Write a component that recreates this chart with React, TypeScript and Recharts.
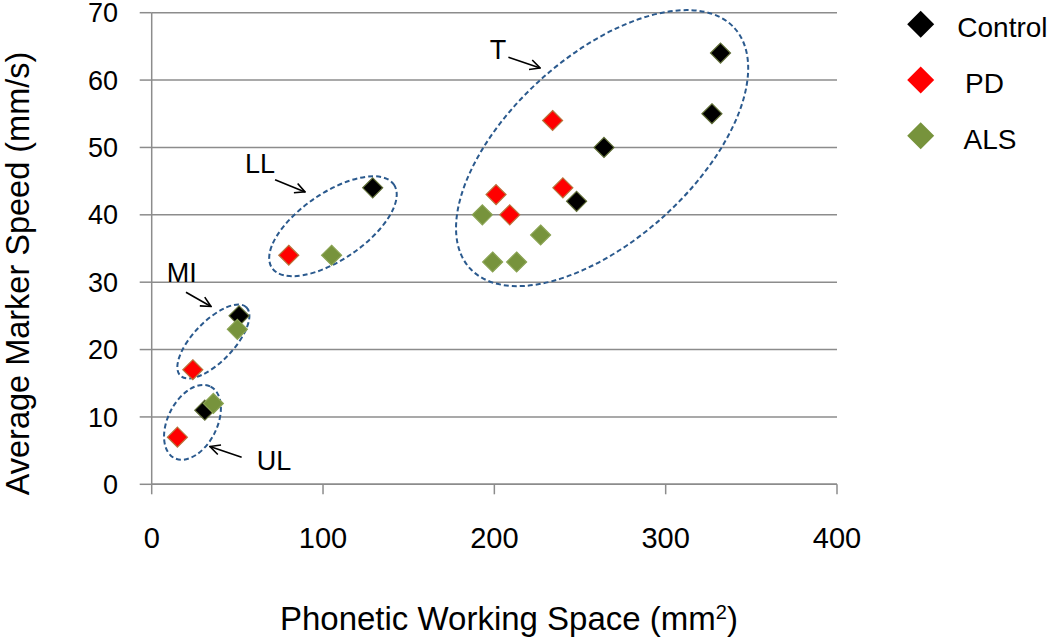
import React from 'react';
import {
  ScatterChart,
  Scatter,
  XAxis,
  YAxis,
  CartesianGrid,
  ReferenceArea,
  ReferenceLine,
  ReferenceDot,
  Legend,
  Label,
} from 'recharts';

// ---------- data ----------
const controlX = [129, 51, 31, 264, 248, 327, 332];
const controlY = [44, 25, 11, 50, 42, 55, 64];
const pdX = [234, 240, 201, 209, 80, 24, 15];
const pdY = [54, 44, 43, 40, 34, 17, 7];
const alsX = [193, 227, 199, 213, 105, 50, 36];
const alsY = [40, 37, 33, 33, 34, 23, 12];

const seriesNames = ['Control', ' PD', ' ALS'];
const xTicks = [0, 100, 200, 300, 400];
const yTicks = [0, 10, 20, 30, 40, 50, 60, 70];

const xTitle = 'Phonetic Working Space (mm';
const xTitleSup = '2';
const yTitle = 'Average Marker Speed (mm/s)';

// articulator groups: centre, unrotated extent (data units), tilt (deg)
const groupNames = ['T', 'LL', 'MI', 'UL'];
const groupCx = [262.9, 105.8, 36.0, 23.8];
const groupCy = [49.9, 38.3, 21.2, 9.2];
const groupW = [208.6, 86.2, 55.5, 46.8];
const groupH = [27.3, 9.9, 6.0, 7.3];
const groupTilt = [42.2, 34.4, 46.1, 63.2];
const labelX = [202.2, 63.2, 17.5, 71.4];
const labelY = [64.5, 47.6, 31.3, 3.5];
const arrowFromX = [208.2, 72.0, 20.0, 52.5];
const arrowFromY = [63.4, 45.2, 28.5, 4.0];
const arrowToX = [226.7, 89.5, 34.6, 34.0];
const arrowToY = [61.8, 43.4, 26.4, 5.6];

const toPoints = (xs: number[], ys: number[]) => xs.map((x, i) => ({ x, y: ys[i] }));
const controlData = toPoints(controlX, controlY);
const pdData = toPoints(pdX, pdY);
const alsData = toPoints(alsX, alsY);

// ---------- styles ----------
const SANS = '"Liberation Sans", Arial, sans-serif';
const GRID = '#8c8c8c';
const COLORS = ['#000000', '#ff0000', '#77933c'];
const EDGES = ['#5f6d36', '#b8743c', '#8aa353'];
const ELLIPSE = '#2b5a8e';

const Diamond = (props: any) => {
  const { cx, cy, fill, edge } = props;
  if (cx == null || cy == null) return null;
  const r = 10;
  return (
    <polygon
      points={`${cx},${cy - r} ${cx + r},${cy} ${cx},${cy + r} ${cx - r},${cy}`}
      fill={fill}
      stroke={edge}
      strokeWidth={1.2}
    />
  );
};

const makeEllipse = (tilt: number) => (props: any) => {
  const { x, y, width, height } = props;
  const cx = x + width / 2;
  const cy = y + height / 2;
  return (
    <ellipse
      cx={cx}
      cy={cy}
      rx={Math.abs(width) / 2}
      ry={Math.abs(height) / 2}
      transform={`rotate(${-tilt} ${cx} ${cy})`}
      fill="none"
      stroke={ELLIPSE}
      strokeWidth={2}
      strokeDasharray="5 3"
    />
  );
};

const makeText = (txt: string) => (props: any) => (
  <text
    x={props.cx}
    y={props.cy}
    textAnchor="middle"
    dominantBaseline="central"
    fontFamily={SANS}
    fontSize={27}
    fill="#000"
  >
    {txt}
  </text>
);

const ArrowShape = (props: any) => {
  const { x1, y1, x2, y2 } = props;
  return (
    <line x1={x1} y1={y1} x2={x2} y2={y2} stroke="#000" strokeWidth={1.6} markerEnd="url(#openArrow)" />
  );
};

const XTitle = (props: any) => {
  const vb = props.viewBox || {};
  return (
    <text
      x={vb.x + vb.width / 2 + 14.6}
      y={vb.y + 145.7}
      textAnchor="middle"
      fontFamily={SANS}
      fontSize={33}
      fill="#000"
    >
      <tspan>{xTitle}</tspan>
      <tspan dy={-11} fontSize={20}>{xTitleSup}</tspan>
      <tspan dy={11}>)</tspan>
    </text>
  );
};

const YTitle = (props: any) => {
  const vb = props.viewBox || {};
  const cx = vb.x + 29;
  const cy = vb.y + vb.height / 2 + 25;
  return (
    <text
      x={cx}
      y={cy}
      transform={`rotate(-90 ${cx} ${cy})`}
      textAnchor="middle"
      fontFamily={SANS}
      fontSize={32.5}
      fill="#000"
    >
      {yTitle}
    </text>
  );
};

const LegendContent = (props: any) => {
  const payload = [...(props.payload || [])].sort(
    (a: any, b: any) => seriesNames.indexOf(a.value) - seriesNames.indexOf(b.value)
  );
  return (
    <svg width={143} height={160} style={{ display: 'block' }}>
      {payload.map((e: any, i: number) => {
        const cy = 14.3 + i * 55.7;
        const r = 13.5;
        const cx = 13.7;
        return (
          <g key={i}>
            <polygon
              points={`${cx},${cy - r} ${cx + r},${cy} ${cx},${cy + r} ${cx - r},${cy}`}
              fill={e.color}
            />
            <text
              x={50.3}
              y={cy + 13}
              fontFamily={SANS}
              fontSize={28}
              fill="#000"
              style={{ whiteSpace: 'pre' }}
            >
              {e.value}
            </text>
          </g>
        );
      })}
    </svg>
  );
};

export default function App() {
  return (
    <div style={{ position: 'absolute', left: 0, top: 0, width: 1050, height: 638, background: '#fff' }}>
      <svg width={0} height={0} style={{ position: 'absolute' }}>
        <defs>
          <marker
            id="openArrow"
            viewBox="0 0 12 12"
            refX={11}
            refY={6}
            markerWidth={12}
            markerHeight={12}
            markerUnits="userSpaceOnUse"
            orient="auto"
          >
            <path d="M1,1 L11,6 L1,11" fill="none" stroke="#000" strokeWidth={1.6} />
          </marker>
        </defs>
      </svg>
      <ScatterChart width={1050} height={638} margin={{ top: 12.7, right: 213, bottom: 0, left: 0 }}>
        <CartesianGrid vertical={false} stroke={GRID} strokeWidth={1.5} />
        <XAxis
          type="number"
          dataKey="x"
          domain={[0, 400]}
          ticks={xTicks}
          height={153.7}
          interval={0}
          axisLine={{ stroke: GRID, strokeWidth: 1.5 }}
          tickLine={{ stroke: GRID, strokeWidth: 1.5 }}
          tickSize={10}
          tickMargin={33}
          tick={{ fontFamily: SANS, fontSize: 29, fill: '#000' }}
        >
          <Label content={<XTitle />} />
        </XAxis>
        <YAxis
          type="number"
          dataKey="y"
          domain={[0, 70]}
          ticks={yTicks}
          width={151.7}
          interval={0}
          axisLine={{ stroke: GRID, strokeWidth: 1.5 }}
          tickLine={{ stroke: GRID, strokeWidth: 1.5 }}
          tickSize={12}
          tickMargin={21.7}
          tick={{ fontFamily: SANS, fontSize: 27, fill: '#000' }}
        >
          <Label content={<YTitle />} />
        </YAxis>
        <Legend
          layout="vertical"
          align="center"
          verticalAlign="middle"
          itemSorter={(item: any) => seriesNames.indexOf(item.value)}
          wrapperStyle={{ left: 907, top: 10, width: 143, height: 160 }}
          content={<LegendContent />}
        />
        {groupNames.map((g, i) => (
          <ReferenceArea
            key={'e' + g}
            x1={groupCx[i] - groupW[i] / 2}
            x2={groupCx[i] + groupW[i] / 2}
            y1={groupCy[i] - groupH[i] / 2}
            y2={groupCy[i] + groupH[i] / 2}
            shape={makeEllipse(groupTilt[i])}
          />
        ))}
        {groupNames.map((g, i) => (
          <ReferenceLine
            key={'a' + g}
            segment={[
              { x: arrowFromX[i], y: arrowFromY[i] },
              { x: arrowToX[i], y: arrowToY[i] },
            ]}
            shape={ArrowShape}
          />
        ))}
        {groupNames.map((g, i) => (
          <ReferenceDot key={'t' + g} x={labelX[i]} y={labelY[i]} r={0} shape={makeText(g)} />
        ))}
        <Scatter
          name={seriesNames[0]}
          data={controlData}
          fill={COLORS[0]}
          isAnimationActive={false}
          shape={(p: any) => <Diamond {...p} fill={COLORS[0]} edge={EDGES[0]} />}
        />
        <Scatter
          name={seriesNames[1]}
          data={pdData}
          fill={COLORS[1]}
          isAnimationActive={false}
          shape={(p: any) => <Diamond {...p} fill={COLORS[1]} edge={EDGES[1]} />}
        />
        <Scatter
          name={seriesNames[2]}
          data={alsData}
          fill={COLORS[2]}
          isAnimationActive={false}
          shape={(p: any) => <Diamond {...p} fill={COLORS[2]} edge={EDGES[2]} />}
        />
      </ScatterChart>
    </div>
  );
}
